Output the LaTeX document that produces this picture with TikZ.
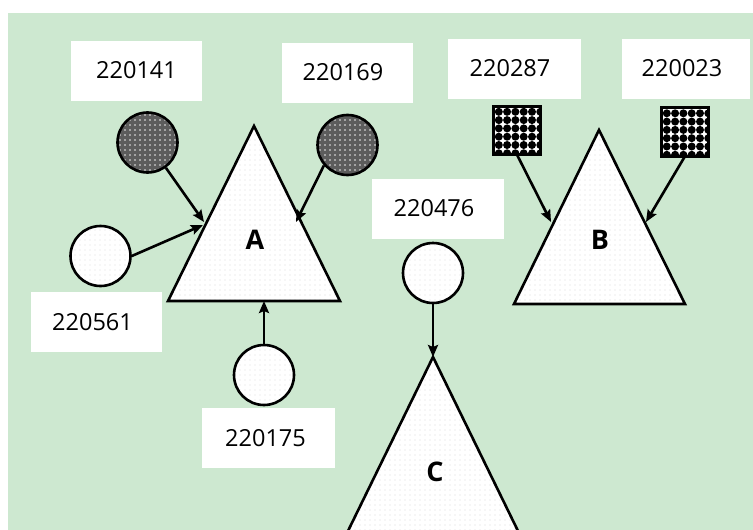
\documentclass[tikz,border=0pt]{standalone}
\usepackage{fontspec}
\setmainfont{Open Sans}
\usetikzlibrary{patterns,arrows.meta,calc}
\definecolor{bggreen}{RGB}{205,232,208}
\definecolor{darkfill}{RGB}{92,92,92}
\pgfdeclarepatternformonly{sparsedots}{\pgfqpoint{-1pt}{-1pt}}{\pgfqpoint{1pt}{1pt}}{\pgfqpoint{5pt}{5pt}}{\pgfpathcircle{\pgfqpoint{0pt}{0pt}}{0.85pt}\pgfusepath{fill}}
\begin{document}
\begin{tikzpicture}[x=1pt,y=-1pt,
  lbl/.style={fill=white, minimum width=131pt, minimum height=60pt, inner sep=0pt,
    font=\fontsize{23.5}{26}\selectfont},
  darkcirc/.style={circle, draw=black, line width=2.6pt, minimum size=60pt, inner sep=0pt,
    preaction={fill=darkfill}, pattern=sparsedots, pattern color=white!85!gray},
  whitecirc/.style={circle, draw=black, line width=2.6pt, minimum size=60pt, inner sep=0pt,
    preaction={fill=white}, pattern=sparsedots, pattern color=gray!12},
  sq/.style={rectangle, fill=white, minimum width=47pt, minimum height=48pt, inner sep=0pt},
  sqborder/.style={draw=black, line width=3pt},
  tri/.style={draw=black, line width=2.6pt, line join=miter, preaction={fill=white},
    pattern=sparsedots, pattern color=gray!14},
  trilabel/.style={font=\fontsize{27}{30}\selectfont\bfseries, inner sep=0pt},
  conn/.style={line width=2.6pt, -{Stealth[length=12pt,width=10pt,inset=2pt]}}
]
\useasboundingbox (0,0) rectangle (753,530);
\clip (0,0) rectangle (753,530);
\fill[white] (0,0) rectangle (753,530);
\fill[bggreen] (8,13) rectangle (753,530);

% label boxes
\node[lbl] (l141) at (136.5,70.5) {220141};
\node[lbl] (l169) at (347.5,72.5) {220169\kern9pt};
\node[lbl, minimum width=133pt] (l287) at (514.5,68.5) {220287\kern9pt};
\node[lbl, minimum width=128pt] (l023) at (686,68.5) {220023\kern8pt};
\node[lbl, minimum width=132pt] (l476) at (438,208.5) {220476\kern8pt};
\node[lbl] (l561) at (96.5,322) {220561\kern8pt};
\node[lbl, minimum width=133pt] (l175) at (268.5,438) {220175\kern6pt};

% triangles
\coordinate (Atop) at (254,126);
\coordinate (Aleft) at (168,301);
\coordinate (Aright) at (340,301);
\draw[tri] (Atop) -- (Aleft) -- (Aright) -- cycle;
\coordinate (Btop) at (599,130);
\coordinate (Bleft) at (514,304);
\coordinate (Bright) at (685,304);
\draw[tri] (Btop) -- (Bleft) -- (Bright) -- cycle;
\coordinate (Ctop) at (433,357);
\coordinate (Cleft) at (347,533);
\coordinate (Cright) at (519,533);
\draw[tri] (Ctop) -- (Cleft) -- (Cright) -- cycle;

\node[trilabel] (A) at (255,240) {A};
\node[trilabel] (B) at (600,240) {B};
\node[trilabel] (C) at (435,472) {C};

% circles
\node[darkcirc] (c141) at (147.5,142.5) {};
\node[darkcirc] (c169) at (347.5,145) {};
\node[whitecirc] (c561) at (100.5,256) {};
\node[whitecirc] (c175) at (264,375) {};
\node[whitecirc] (c476) at (433,273) {};

% squares
\node[sq] (s287) at (517,130.5) {};
\node[sq] (s023) at (685,132) {};
\foreach \s in {s287,s023}{
  \begin{scope}
    \clip (\s.north west) rectangle (\s.south east);
    \foreach \i in {0,...,5}{
      \foreach \j in {0,...,5}{
        \fill[black] ($(\s.north west)+(5.5+8.3*\i,5.5+8.3*\j)$) circle (4pt);
      }
    }
  \end{scope}
  \draw[sqborder] (\s.north west) rectangle (\s.south east);
}

% arrow targets
\coordinate (tA1) at (204,222);
\coordinate (tA2) at (203,225);
\coordinate (tA3) at (296,222);
\coordinate (tA4) at (264,301);
\coordinate (tB1) at (551,222);
\coordinate (tB2) at (646,222);

% connectors
\draw[conn] (c141.-54) -- (tA1);
\draw[conn] (c561.east) -- (tA2);
\draw[conn] (c169.-139) -- (tA3);
\draw[conn] (c175.north) -- (tA4);
\draw[conn] (s287.south) -- (tB1);
\draw[conn] (s023.south) -- (tB2);
\draw[conn] (c476.south) -- (Ctop);
\end{tikzpicture}
\end{document}
